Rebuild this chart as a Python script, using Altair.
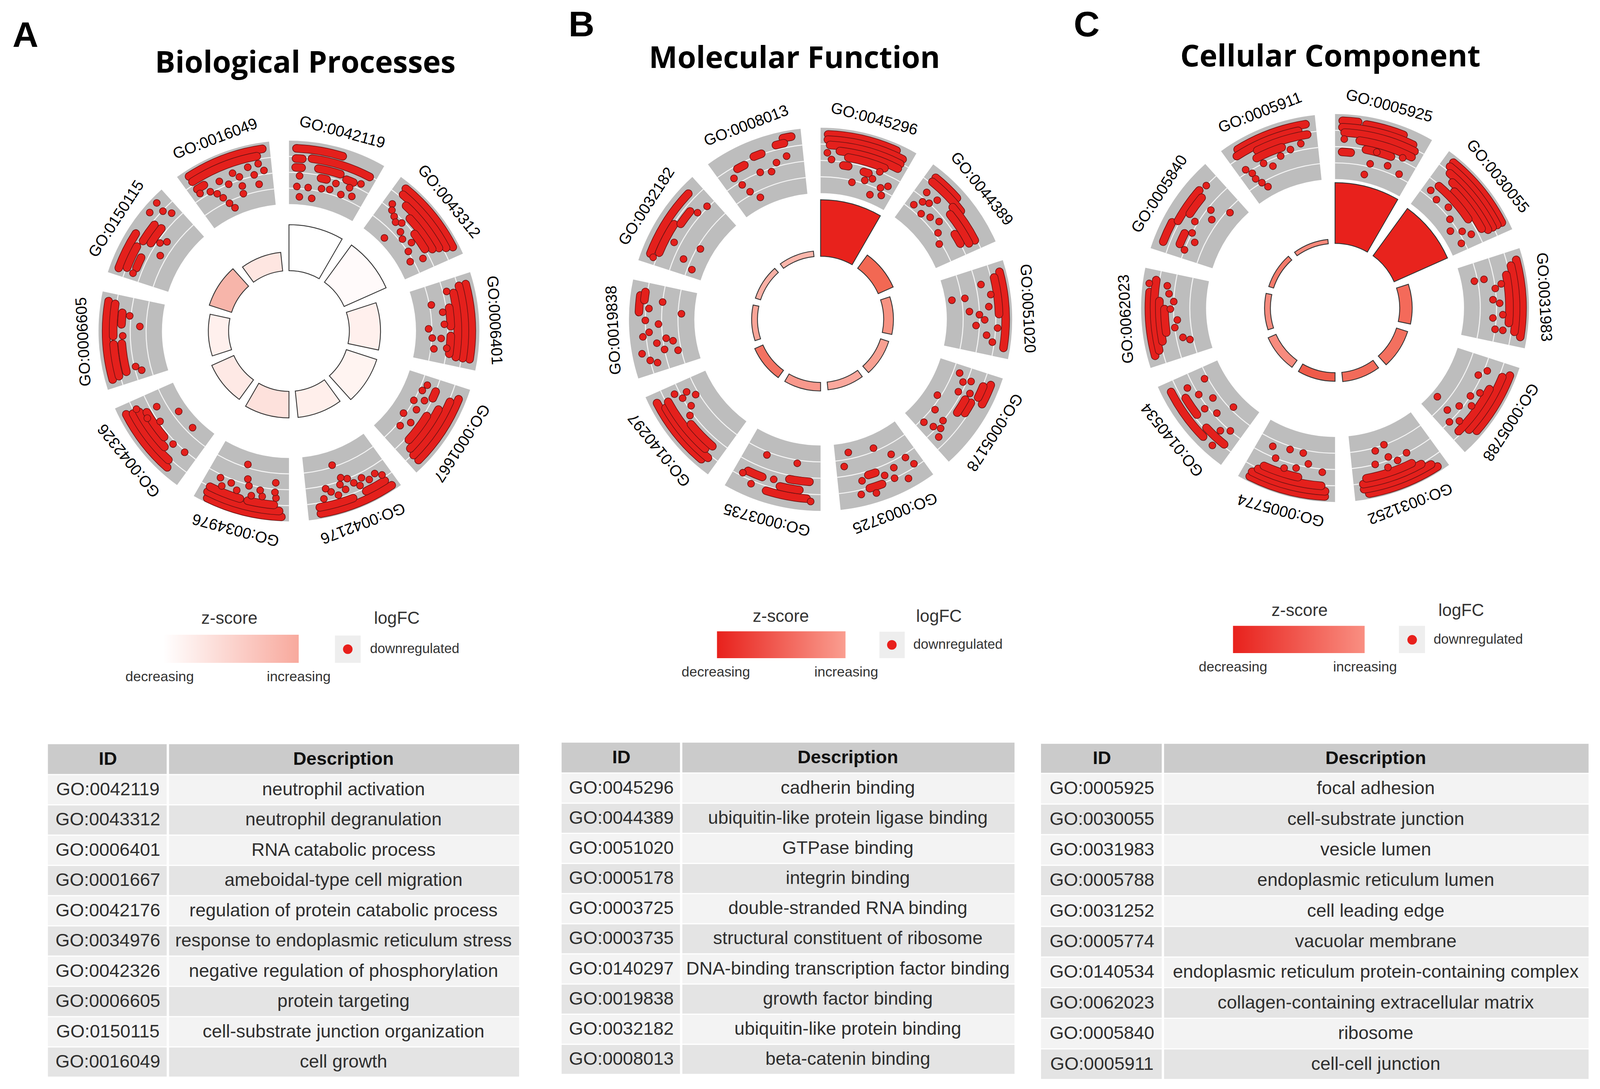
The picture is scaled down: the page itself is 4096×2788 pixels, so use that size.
import math
import altair as alt
import pandas as pd

# ---------------- scale of the whole picture ----------------
S = 0.997
W, H = 4080, 2772
X0 = 8 / S
Y0 = 8 / S
XS = alt.Scale(domain=[X0, X0 + W / S], nice=False, zero=False)
YS = alt.Scale(domain=[Y0, Y0 + H / S], nice=False, zero=False, reverse=True)
TS = alt.Scale(type="linear", domain=[0, 360], range=[0, 2 * math.pi], zero=False, nice=False)
RS = alt.Scale(type="linear", domain=[0, 1000], range=[0, 1000 * S], zero=False, nice=False)

# ---------------- data ----------------
letters = ["A", "B", "C"]
titles = ["Biological Processes", "Molecular Function", "Cellular Component"]

ids_A = ["GO:0042119", "GO:0043312", "GO:0006401", "GO:0001667", "GO:0042176",
         "GO:0034976", "GO:0042326", "GO:0006605", "GO:0150115", "GO:0016049"]
ids_B = ["GO:0045296", "GO:0044389", "GO:0051020", "GO:0005178", "GO:0003725",
         "GO:0003735", "GO:0140297", "GO:0019838", "GO:0032182", "GO:0008013"]
ids_C = ["GO:0005925", "GO:0030055", "GO:0031983", "GO:0005788", "GO:0031252",
         "GO:0005774", "GO:0140534", "GO:0062023", "GO:0005840", "GO:0005911"]

desc_A = ["neutrophil activation", "neutrophil degranulation", "RNA catabolic process",
          "ameboidal-type cell migration", "regulation of protein catabolic process",
          "response to endoplasmic reticulum stress", "negative regulation of phosphorylation",
          "protein targeting", "cell-substrate junction organization", "cell growth"]
desc_B = ["cadherin binding", "ubiquitin-like protein ligase binding", "GTPase binding",
          "integrin binding", "double-stranded RNA binding", "structural constituent of ribosome",
          "DNA-binding transcription factor binding", "growth factor binding",
          "ubiquitin-like protein binding", "beta-catenin binding"]
desc_C = ["focal adhesion", "cell-substrate junction", "vesicle lumen",
          "endoplasmic reticulum lumen", "cell leading edge", "vacuolar membrane",
          "endoplasmic reticulum protein-containing complex",
          "collagen-containing extracellular matrix", "ribosome", "cell-cell junction"]

# inner bar heights (px of the reference) and z-score colours
bar_h_A = [118, 118, 80, 82, 68, 68, 62, 52, 60, 48]
bar_h_B = [145, 42, 25, 22, 20, 22, 23, 15, 14, 14]
bar_h_C = [156, 150, 32, 30, 24, 22, 22, 15, 13, 11]
bar_col_A = ["#ffffff", "#fffafa", "#fff0ed", "#fff4f1", "#ffefeb",
             "#fde1dc", "#fee9e5", "#fff0ed", "#f7b5aa", "#fee6e1"]
bar_col_B = ["#e8221c", "#f26853", "#f79282", "#f8a092", "#fba89d",
             "#f9988c", "#f37262", "#f8a497", "#fbb0a5", "#fcb6ab"]
bar_col_C = ["#e8211c", "#e8231d", "#f46a5a", "#f3705f", "#f26b5a",
             "#ef5b4a", "#f78b7e", "#f68a7d", "#f47a6a", "#f8887a"]

# gene dots: (radial position in track 0..1, angular start 0..1, angular end 0..1)
dots_A = [
    [(0.88, 0.02, 0.58), (0.74, 0.22, 0.98), (0.72, 0.02, 0.10), (0.58, 0.02, 0.10), (0.60, 0.32, 0.62),
     (0.55, 0.72, 0.82), (0.45, 0.08, 0.08), (0.46, 0.38, 0.46), (0.44, 0.60, 0.60), (0.45, 0.80, 0.80),
     (0.58, 0.92, 0.92), (0.28, 0.05, 0.05), (0.28, 0.22, 0.22), (0.30, 0.42, 0.42), (0.32, 0.54, 0.54),
     (0.30, 0.72, 0.72), (0.34, 0.88, 0.88), (0.12, 0.10, 0.10), (0.12, 0.30, 0.30)],
    [(0.90, 0.06, 0.95), (0.80, 0.08, 0.92), (0.70, 0.20, 0.88), (0.60, 0.35, 0.85), (0.50, 0.55, 0.80),
     (0.58, 0.05, 0.05), (0.50, 0.10, 0.10), (0.45, 0.18, 0.18), (0.40, 0.25, 0.25), (0.46, 0.32, 0.32),
     (0.35, 0.40, 0.40), (0.30, 0.50, 0.50), (0.38, 0.62, 0.62), (0.26, 0.70, 0.70), (0.20, 0.85, 0.85),
     (0.10, 0.30, 0.30), (0.40, 0.90, 0.90)],
    [(0.88, 0.05, 0.95), (0.77, 0.05, 0.95), (0.66, 0.12, 0.95), (0.55, 0.30, 0.55), (0.55, 0.68, 0.92),
     (0.44, 0.35, 0.35), (0.45, 0.52, 0.52), (0.40, 0.72, 0.72), (0.50, 0.85, 0.85), (0.28, 0.22, 0.22),
     (0.20, 0.58, 0.58), (0.26, 0.72, 0.72), (0.30, 0.88, 0.88), (0.56, 0.08, 0.08)],
    [(0.88, 0.08, 0.95), (0.77, 0.15, 0.95), (0.66, 0.30, 0.92), (0.55, 0.45, 0.85), (0.50, 0.10, 0.20),
     (0.34, 0.06, 0.06), (0.30, 0.16, 0.16), (0.40, 0.28, 0.28), (0.25, 0.35, 0.35), (0.36, 0.45, 0.45),
     (0.22, 0.60, 0.60), (0.40, 0.65, 0.65), (0.30, 0.78, 0.78)],
    [(0.92, 0.02, 0.92), (0.82, 0.50, 0.92), (0.80, 0.06, 0.32), (0.70, 0.05, 0.05), (0.62, 0.12, 0.12),
     (0.66, 0.22, 0.22), (0.58, 0.30, 0.30), (0.68, 0.36, 0.36), (0.60, 0.42, 0.42), (0.50, 0.48, 0.48),
     (0.65, 0.55, 0.55), (0.55, 0.60, 0.60), (0.70, 0.66, 0.66), (0.62, 0.74, 0.74), (0.70, 0.85, 0.85),
     (0.45, 0.56, 0.56), (0.22, 0.62, 0.62), (0.55, 0.80, 0.80)],
    [(0.93, 0.02, 0.92), (0.84, 0.05, 0.95), (0.75, 0.12, 0.45), (0.75, 0.55, 0.95), (0.64, 0.10, 0.10),
     (0.55, 0.12, 0.12), (0.40, 0.12, 0.12), (0.64, 0.28, 0.28), (0.55, 0.32, 0.32), (0.66, 0.42, 0.42),
     (0.52, 0.48, 0.48), (0.42, 0.52, 0.52), (0.64, 0.62, 0.62), (0.56, 0.72, 0.72), (0.66, 0.82, 0.82),
     (0.55, 0.88, 0.88), (0.20, 0.58, 0.58)],
    [(0.88, 0.15, 0.95), (0.78, 0.20, 0.92), (0.68, 0.35, 0.90), (0.58, 0.45, 0.85), (0.52, 0.11, 0.11),
     (0.55, 0.30, 0.30), (0.48, 0.65, 0.65), (0.62, 0.78, 0.78), (0.15, 0.27, 0.27), (0.15, 0.61, 0.61),
     (0.40, 0.85, 0.85), (0.70, 0.95, 0.95)],
    [(0.88, 0.03, 0.97), (0.77, 0.55, 0.95), (0.77, 0.05, 0.45), (0.64, 0.70, 0.85), (0.64, 0.08, 0.45),
     (0.52, 0.82, 0.82), (0.35, 0.68, 0.68), (0.62, 0.55, 0.55), (0.48, 0.12, 0.12), (0.40, 0.05, 0.05)],
    [(0.86, 0.02, 0.48), (0.74, 0.06, 0.35), (0.70, 0.45, 0.70), (0.60, 0.10, 0.25), (0.58, 0.48, 0.72),
     (0.88, 0.78, 0.78), (0.90, 0.92, 0.92), (0.74, 0.90, 0.90), (0.62, 0.96, 0.96), (0.46, 0.55, 0.55),
     (0.38, 0.62, 0.62), (0.35, 0.40, 0.40), (0.62, 0.02, 0.02)],
    [(0.90, 0.05, 0.98), (0.80, 0.05, 0.90), (0.66, 0.05, 0.15), (0.58, 0.05, 0.05), (0.52, 0.18, 0.18),
     (0.44, 0.25, 0.25), (0.34, 0.30, 0.30), (0.22, 0.35, 0.35), (0.12, 0.40, 0.40), (0.60, 0.35, 0.35),
     (0.50, 0.45, 0.45), (0.64, 0.55, 0.55), (0.55, 0.62, 0.62), (0.40, 0.62, 0.62), (0.28, 0.60, 0.60),
     (0.66, 0.76, 0.76), (0.52, 0.82, 0.82), (0.68, 0.90, 0.90), (0.56, 0.96, 0.96), (0.36, 0.86, 0.86)],
]
dots_B = [
    [(0.90, 0.02, 0.85), (0.82, 0.02, 0.96), (0.74, 0.05, 0.96), (0.66, 0.18, 0.96), (0.58, 0.30, 0.80),
     (0.62, 0.02, 0.02), (0.52, 0.08, 0.08), (0.45, 0.25, 0.32), (0.42, 0.55, 0.62), (0.50, 0.76, 0.76),
     (0.36, 0.70, 0.70), (0.28, 0.86, 0.86), (0.18, 0.92, 0.92), (0.12, 0.75, 0.75), (0.22, 0.42, 0.42),
     (0.30, 0.60, 0.60), (0.35, 0.95, 0.95)],
    [(0.86, 0.05, 0.40), (0.78, 0.05, 0.55), (0.72, 0.45, 0.95), (0.62, 0.50, 0.95), (0.50, 0.75, 0.90),
     (0.60, 0.08, 0.08), (0.50, 0.20, 0.20), (0.45, 0.12, 0.12), (0.33, 0.05, 0.05), (0.30, 0.22, 0.22),
     (0.36, 0.35, 0.35), (0.42, 0.48, 0.48), (0.62, 0.25, 0.25), (0.30, 0.60, 0.60), (0.22, 0.75, 0.75)],
    [(0.90, 0.05, 0.95), (0.80, 0.10, 0.55), (0.78, 0.72, 0.72), (0.70, 0.30, 0.30), (0.65, 0.45, 0.45),
     (0.58, 0.15, 0.15), (0.50, 0.55, 0.55), (0.45, 0.70, 0.70), (0.35, 0.50, 0.50), (0.30, 0.30, 0.30),
     (0.10, 0.30, 0.30), (0.58, 0.62, 0.62), (0.62, 0.82, 0.82), (0.72, 0.90, 0.90)],
    [(0.86, 0.05, 0.30), (0.76, 0.10, 0.25), (0.70, 0.35, 0.50), (0.60, 0.35, 0.55), (0.56, 0.10, 0.10),
     (0.45, 0.15, 0.15), (0.35, 0.05, 0.05), (0.62, 0.25, 0.25), (0.45, 0.30, 0.30), (0.20, 0.50, 0.50),
     (0.30, 0.70, 0.70), (0.50, 0.75, 0.75), (0.55, 0.85, 0.85), (0.45, 0.90, 0.90), (0.62, 0.95, 0.95),
     (0.30, 0.95, 0.95)],
    [(0.55, 0.10, 0.10), (0.70, 0.05, 0.05), (0.85, 0.20, 0.20), (0.60, 0.30, 0.30), (0.75, 0.35, 0.35),
     (0.65, 0.45, 0.45), (0.56, 0.55, 0.65), (0.76, 0.52, 0.68), (0.62, 0.75, 0.75), (0.82, 0.80, 0.80),
     (0.35, 0.95, 0.95), (0.20, 0.45, 0.45), (0.15, 0.85, 0.85), (0.86, 0.62, 0.62), (0.40, 0.25, 0.25)],
    [(0.82, 0.10, 0.60), (0.70, 0.20, 0.45), (0.64, 0.70, 0.90), (0.56, 0.08, 0.35), (0.30, 0.28, 0.28),
     (0.30, 0.75, 0.75), (0.62, 0.55, 0.55), (0.86, 0.05, 0.05), (0.80, 0.80, 0.80), (0.70, 0.95, 0.95)],
    [(0.88, 0.10, 0.95), (0.80, 0.05, 0.85), (0.72, 0.15, 0.90), (0.62, 0.10, 0.50), (0.55, 0.60, 0.60),
     (0.45, 0.70, 0.70), (0.50, 0.85, 0.85), (0.40, 0.90, 0.90), (0.30, 0.80, 0.80), (0.58, 0.95, 0.95)],
    [(0.85, 0.70, 0.90), (0.78, 0.85, 0.95), (0.75, 0.60, 0.60), (0.70, 0.75, 0.75), (0.80, 0.40, 0.40),
     (0.70, 0.45, 0.45), (0.85, 0.20, 0.20), (0.75, 0.10, 0.10), (0.65, 0.05, 0.05), (0.60, 0.30, 0.30),
     (0.50, 0.20, 0.20), (0.45, 0.35, 0.35), (0.35, 0.30, 0.30), (0.30, 0.15, 0.15), (0.50, 0.85, 0.85),
     (0.20, 0.70, 0.70), (0.55, 0.55, 0.55)],
    [(0.86, 0.05, 0.90), (0.74, 0.10, 0.50), (0.66, 0.55, 0.75), (0.56, 0.80, 0.80), (0.52, 0.95, 0.95),
     (0.36, 0.15, 0.15), (0.20, 0.40, 0.40), (0.18, 0.05, 0.05), (0.60, 0.30, 0.30), (0.80, 0.02, 0.02)],
    [(0.90, 0.85, 0.95), (0.82, 0.75, 0.85), (0.76, 0.45, 0.55), (0.70, 0.20, 0.30), (0.60, 0.10, 0.10),
     (0.45, 0.15, 0.15), (0.30, 0.20, 0.20), (0.15, 0.30, 0.30), (0.50, 0.45, 0.45), (0.45, 0.60, 0.60),
     (0.56, 0.70, 0.70), (0.62, 0.85, 0.85)],
]
dots_C = [
    [(0.90, 0.02, 0.20), (0.88, 0.30, 0.75), (0.80, 0.02, 0.90), (0.72, 0.05, 0.95), (0.62, 0.25, 0.95),
     (0.50, 0.35, 0.70), (0.62, 0.05, 0.05), (0.42, 0.03, 0.15), (0.30, 0.45, 0.45), (0.35, 0.70, 0.70),
     (0.30, 0.90, 0.90), (0.12, 0.40, 0.40), (0.55, 0.85, 0.85), (0.50, 0.50, 0.50)],
    [(0.90, 0.05, 0.95), (0.82, 0.05, 0.95), (0.74, 0.10, 0.95), (0.66, 0.20, 0.95), (0.58, 0.30, 0.90),
     (0.48, 0.10, 0.70), (0.35, 0.05, 0.05), (0.30, 0.20, 0.20), (0.35, 0.40, 0.40), (0.25, 0.55, 0.55),
     (0.15, 0.70, 0.70), (0.30, 0.80, 0.80), (0.40, 0.90, 0.90), (0.20, 0.95, 0.95)],
    [(0.90, 0.05, 0.95), (0.80, 0.10, 0.90), (0.70, 0.20, 0.80), (0.60, 0.30, 0.30), (0.50, 0.35, 0.35),
     (0.45, 0.50, 0.50), (0.55, 0.55, 0.55), (0.60, 0.70, 0.70), (0.45, 0.75, 0.75), (0.50, 0.90, 0.90),
     (0.20, 0.20, 0.20), (0.35, 0.20, 0.20), (0.62, 0.90, 0.90)],
    [(0.90, 0.05, 0.80), (0.80, 0.10, 0.85), (0.70, 0.30, 0.95), (0.55, 0.10, 0.10), (0.45, 0.20, 0.20),
     (0.60, 0.40, 0.40), (0.50, 0.50, 0.50), (0.60, 0.60, 0.60), (0.45, 0.70, 0.70), (0.35, 0.85, 0.85),
     (0.10, 0.80, 0.80), (0.60, 0.85, 0.85), (0.50, 0.95, 0.95)],
    [(0.92, 0.05, 0.90), (0.84, 0.10, 0.95), (0.76, 0.20, 0.95), (0.68, 0.30, 0.90), (0.50, 0.30, 0.30),
     (0.55, 0.45, 0.45), (0.45, 0.55, 0.55), (0.60, 0.60, 0.60), (0.30, 0.70, 0.70), (0.50, 0.75, 0.75),
     (0.25, 0.55, 0.55)],
    [(0.92, 0.05, 0.95), (0.84, 0.05, 0.95), (0.76, 0.10, 0.90), (0.68, 0.40, 0.85), (0.55, 0.10, 0.10),
     (0.45, 0.30, 0.30), (0.30, 0.40, 0.40), (0.55, 0.45, 0.45), (0.30, 0.60, 0.60), (0.50, 0.75, 0.75),
     (0.35, 0.85, 0.85), (0.60, 0.60, 0.60)],
    [(0.85, 0.30, 0.95), (0.72, 0.05, 0.35), (0.70, 0.55, 0.80), (0.60, 0.20, 0.20), (0.50, 0.10, 0.10),
     (0.45, 0.40, 0.40), (0.55, 0.55, 0.55), (0.35, 0.60, 0.60), (0.50, 0.75, 0.75), (0.30, 0.90, 0.90),
     (0.60, 0.90, 0.90), (0.20, 0.30, 0.30), (0.85, 0.15, 0.15)],
    [(0.88, 0.05, 0.80), (0.80, 0.10, 0.95), (0.72, 0.20, 0.70), (0.64, 0.30, 0.60), (0.55, 0.60, 0.60),
     (0.50, 0.70, 0.70), (0.58, 0.80, 0.80), (0.45, 0.45, 0.45), (0.50, 0.35, 0.35), (0.40, 0.20, 0.20),
     (0.30, 0.15, 0.15), (0.62, 0.90, 0.90), (0.90, 0.90, 0.90)],
    [(0.85, 0.05, 0.30), (0.78, 0.35, 0.80), (0.68, 0.50, 0.75), (0.60, 0.10, 0.25), (0.50, 0.05, 0.05),
     (0.40, 0.20, 0.20), (0.50, 0.30, 0.30), (0.55, 0.45, 0.45), (0.35, 0.60, 0.60), (0.20, 0.85, 0.85),
     (0.75, 0.90, 0.90), (0.45, 0.70, 0.70)],
    [(0.88, 0.10, 0.95), (0.80, 0.05, 0.85), (0.72, 0.30, 0.95), (0.62, 0.25, 0.60), (0.55, 0.05, 0.05),
     (0.45, 0.10, 0.10), (0.35, 0.10, 0.10), (0.25, 0.15, 0.15), (0.15, 0.20, 0.20), (0.50, 0.30, 0.30),
     (0.40, 0.40, 0.40), (0.50, 0.55, 0.55), (0.55, 0.70, 0.70), (0.60, 0.85, 0.85)],
]

legend_stops = [["#ffffff", "#f8a99d"], ["#e8211c", "#fa9e90"], ["#e8211c", "#f98f82"]]

# ---------------- layout (reference pixels) ----------------
geom = [
    dict(cx=742, cy=850, base=155, rin=326, rout=489, rlab=528),
    dict(cx=2107, cy=820, base=162, rin=324, rout=492, rlab=532),
    dict(cx=3428, cy=791, base=166, rin=331, rout=498, rlab=537),
]
SEG_STEP, SEG_SPAN = 36.0, 30.0
DOT_R = 10.0
DOT_PAD = 1.8
GRID_FRACS = [0.25, 0.5, 0.75]
GRID_HALF = 1.3

letter_pos = [(32, 120), (1460, 93), (2757, 93)]
title_pos = [(784, 187), (2040, 175), (3416, 171)]

legend_geo = [
    dict(zx=589, zy=1589, bar=(419, 767, 1630, 1702), lab_y=1738, dec_x=410, inc_x=767,
         lx=1019, key=(860, 926, 1632, 1702), dot=(893, 1667), down_x=950),
    dict(zx=2005, zy=1584, bar=(1841, 2171, 1621, 1690), lab_y=1726, dec_x=1838, inc_x=2173,
         lx=2411, key=(2258, 2323, 1622, 1690), dot=(2290, 1656), down_x=2345),
    dict(zx=3337, zy=1569, bar=(3166, 3504, 1607, 1677), lab_y=1713, dec_x=3166, inc_x=3505,
         lx=3752, key=(3592, 3659, 1607, 1677), dot=(3626, 1643), down_x=3681),
]

table_geo = [
    dict(left=123, div=431, right=1333, top=1911, hh=78, rh=77.7),
    dict(left=1442, div=1749, right=2605, top=1907, hh=78, rh=77.4),
    dict(left=2673, div=2986, right=4079, top=1910, hh=76, rh=78.6),
]

IDS = [ids_A, ids_B, ids_C]
DESC = [desc_A, desc_B, desc_C]
BAR_H = [bar_h_A, bar_h_B, bar_h_C]
BAR_COL = [bar_col_A, bar_col_B, bar_col_C]
DOTS = [dots_A, dots_B, dots_C]

# ---------------- build tables of marks ----------------
track_rows, grid_rows, bar_rows, run_rows, dot_rows, lab_rows = [], [], [], [], [], []
for p in range(3):
    g = geom[p]
    w = g["rout"] - g["rin"]
    c = dict(cx=g["cx"], cy=g["cy"])
    for i in range(10):
        a0 = SEG_STEP * i
        a1 = a0 + SEG_SPAN
        track_rows.append(dict(c, a0=a0, a1=a1, r0=g["rin"], r1=g["rout"]))
        for f in GRID_FRACS:
            rr = g["rin"] + f * w
            grid_rows.append(dict(c, a0=a0, a1=a1, r0=rr - GRID_HALF, r1=rr + GRID_HALF))
        bar_rows.append(dict(c, a0=a0, a1=a1, r0=g["base"], r1=g["base"] + BAR_H[p][i],
                             col=BAR_COL[p][i]))
        lab_rows.append(dict(c, r=g["rlab"], a=a0 + SEG_SPAN / 2, text=IDS[p][i]))
        for (f, t0, t1) in DOTS[p][i]:
            r = g["rin"] + f * w
            ang0 = a0 + DOT_PAD + t0 * (SEG_SPAN - 2 * DOT_PAD)
            ang1 = a0 + DOT_PAD + t1 * (SEG_SPAN - 2 * DOT_PAD)
            if t1 > t0:
                d = math.degrees(DOT_R / r)
                run_rows.append(dict(c, a0=ang0 - d, a1=ang1 + d, r0=r - DOT_R, r1=r + DOT_R))
            else:
                dot_rows.append(dict(c, a=ang0, r=r))


def ex(f):
    return alt.X(f, type="quantitative", scale=XS, axis=None)


def ey(f):
    return alt.Y(f, type="quantitative", scale=YS, axis=None)


def arcs(rows, fill_field=None, **mark):
    enc = dict(
        x=ex("cx"), y=ey("cy"),
        theta=alt.Theta("a0:Q", scale=TS, stack=None), theta2=alt.Theta2("a1:Q"),
        radius=alt.Radius("r0:Q", scale=RS), radius2=alt.Radius2("r1:Q"),
    )
    if fill_field:
        enc["fill"] = alt.Fill(fill_field + ":N", scale=None)
    return alt.Chart(pd.DataFrame(rows)).mark_arc(**mark).encode(**enc)


POLAR = dict(px="datum.cx + datum.r * sin(datum.a * PI / 180)",
             py="datum.cy - datum.r * cos(datum.a * PI / 180)")

DOT_FILL = "#e4201c"
DOT_STROKE = "#6e1212"

layers = []
layers.append(arcs(track_rows, fill="#bdbdbd", stroke=None))
layers.append(arcs(grid_rows, fill="#f4f4f4", stroke=None))
layers.append(arcs(bar_rows, fill_field="col", stroke="#333333", strokeWidth=2.2))
layers.append(arcs(run_rows, fill=DOT_FILL, stroke=DOT_STROKE, strokeWidth=1.6,
                   cornerRadius=DOT_R * S))
layers.append(
    alt.Chart(pd.DataFrame(dot_rows)).mark_circle(
        size=math.pi * (DOT_R * S) ** 2, fill=DOT_FILL, stroke=DOT_STROKE, strokeWidth=1.6, opacity=1
    ).transform_calculate(**POLAR).encode(x=ex("px"), y=ey("py"))
)
layers.append(
    alt.Chart(pd.DataFrame(lab_rows)).mark_text(
        font="Liberation Sans", fontSize=40 * S, color="#000000", align="center", baseline="middle"
    ).transform_calculate(**POLAR).encode(
        x=ex("px"), y=ey("py"), text="text:N", angle=alt.Angle("a:Q", scale=None)
    )
)

# panel letters and titles
lt = pd.DataFrame([dict(x=letter_pos[i][0], y=letter_pos[i][1], t=letters[i]) for i in range(3)])
layers.append(alt.Chart(lt).mark_text(font="Liberation Sans", fontWeight="bold", fontSize=92 * S,
                                      color="#000000", align="left", baseline="alphabetic")
              .encode(x=ex("x"), y=ey("y"), text="t:N"))
tt = pd.DataFrame([dict(x=title_pos[i][0], y=title_pos[i][1], t=titles[i]) for i in range(3)])
layers.append(alt.Chart(tt).mark_text(font="Open Sans", fontWeight="bold", fontSize=77.5 * S,
                                      color="#000000", align="center", baseline="alphabetic")
              .encode(x=ex("x"), y=ey("y"), text="t:N"))

# legends
leg_title, leg_small, leg_down, key_rect, key_dot = [], [], [], [], []
for p in range(3):
    lg = legend_geo[p]
    leg_title.append(dict(x=lg["zx"], y=lg["zy"], t="z-score"))
    leg_title.append(dict(x=lg["lx"], y=lg["zy"], t="logFC"))
    leg_small.append(dict(x=lg["dec_x"], y=lg["lab_y"], t="decreasing"))
    leg_small.append(dict(x=lg["inc_x"], y=lg["lab_y"], t="increasing"))
    leg_down.append(dict(x=lg["down_x"], y=lg["dot"][1], t="downregulated"))
    k = lg["key"]
    key_rect.append(dict(x=k[0], x2=k[1], y=k[2], y2=k[3]))
    key_dot.append(dict(x=lg["dot"][0], y=lg["dot"][1]))
    b = lg["bar"]
    grad = {"gradient": "linear", "x1": 0, "x2": 1, "y1": 0, "y2": 0,
            "stops": [{"offset": 0, "color": legend_stops[p][0]},
                      {"offset": 1, "color": legend_stops[p][1]}]}
    layers.append(alt.Chart(pd.DataFrame([dict(x=b[0], x2=b[1], y=b[2], y2=b[3])]))
                  .mark_rect(fill=grad, stroke=None)
                  .encode(x=ex("x"), x2="x2:Q", y=ey("y"), y2="y2:Q"))

layers.append(alt.Chart(pd.DataFrame(key_rect)).mark_rect(fill="#eeeeee")
              .encode(x=ex("x"), x2="x2:Q", y=ey("y"), y2="y2:Q"))
layers.append(alt.Chart(pd.DataFrame(key_dot)).mark_circle(size=600, fill="#e8201c", opacity=1)
              .encode(x=ex("x"), y=ey("y")))
layers.append(alt.Chart(pd.DataFrame(leg_title)).mark_text(
    font="Liberation Sans", fontSize=44 * S, color="#333333", align="center", baseline="middle")
    .encode(x=ex("x"), y=ey("y"), text="t:N"))
layers.append(alt.Chart(pd.DataFrame(leg_small)).mark_text(
    font="Liberation Sans", fontSize=36 * S, color="#333333", align="center", baseline="middle")
    .encode(x=ex("x"), y=ey("y"), text="t:N"))
layers.append(alt.Chart(pd.DataFrame(leg_down)).mark_text(
    font="Liberation Sans", fontSize=35 * S, color="#333333", align="left", baseline="middle")
    .encode(x=ex("x"), y=ey("y"), text="t:N"))

# tables
cells, head_txt, body_txt = [], [], []
GAP = 3
for p in range(3):
    tg = table_geo[p]
    L, D, R, T, HH, RH = tg["left"], tg["div"], tg["right"], tg["top"], tg["hh"], tg["rh"]
    cells.append(dict(x=L, x2=D - GAP, y=T, y2=T + HH - 1.5, col="#cbcbcb"))
    cells.append(dict(x=D + GAP, x2=R, y=T, y2=T + HH - 1.5, col="#cbcbcb"))
    head_txt.append(dict(x=(L + D) / 2, y=T + HH / 2, t="ID"))
    head_txt.append(dict(x=(D + R) / 2, y=T + HH / 2, t="Description"))
    for i in range(10):
        y0 = T + HH + i * RH + 1.5
        y1 = T + HH + (i + 1) * RH - 1.5
        col = "#f3f3f3" if i % 2 == 0 else "#e4e4e4"
        cells.append(dict(x=L, x2=D - GAP, y=y0, y2=y1, col=col))
        cells.append(dict(x=D + GAP, x2=R, y=y0, y2=y1, col=col))
        yc = T + HH + (i + 0.5) * RH
        body_txt.append(dict(x=(L + D) / 2, y=yc, t=IDS[p][i]))
        body_txt.append(dict(x=(D + R) / 2, y=yc, t=DESC[p][i]))

layers.append(alt.Chart(pd.DataFrame(cells)).mark_rect()
              .encode(x=ex("x"), x2="x2:Q", y=ey("y"), y2="y2:Q", fill=alt.Fill("col:N", scale=None)))
layers.append(alt.Chart(pd.DataFrame(head_txt)).mark_text(
    font="Liberation Sans", fontWeight="bold", fontSize=47 * S, color="#111111",
    align="center", baseline="middle").encode(x=ex("x"), y=ey("y"), text="t:N"))
layers.append(alt.Chart(pd.DataFrame(body_txt)).mark_text(
    font="Liberation Sans", fontSize=47 * S, color="#2e2e2e",
    align="center", baseline="middle").encode(x=ex("x"), y=ey("y"), text="t:N"))

chart = alt.layer(*layers).properties(
    width=W, height=H, padding=0, background="white",
    autosize=alt.AutoSizeParams(type="none"),
).configure_view(stroke=None)

chart.save("out.html", embed_options={"renderer": "svg", "actions": False})
